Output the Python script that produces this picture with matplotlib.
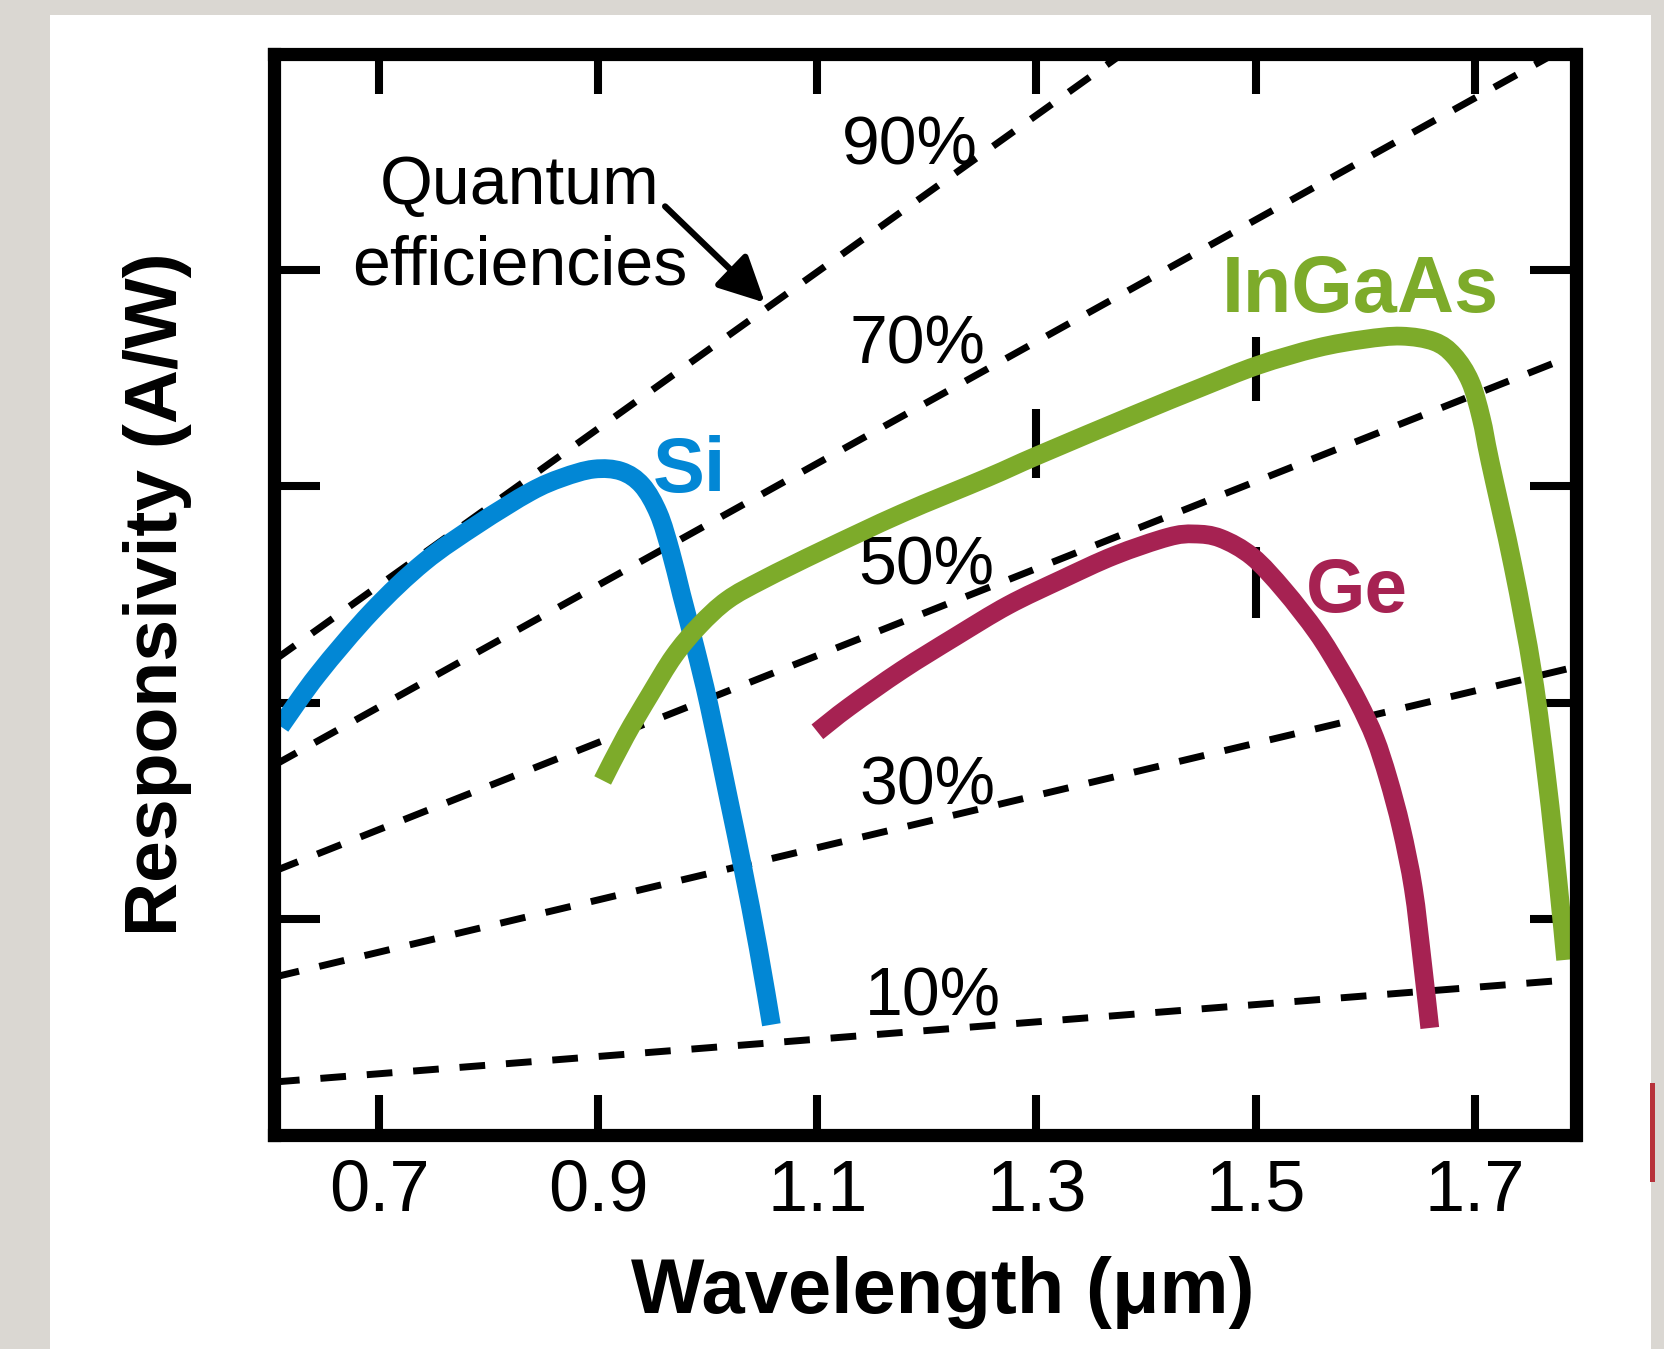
import matplotlib
matplotlib.use('Agg')
import matplotlib.pyplot as plt
from matplotlib.patches import Rectangle, PathPatch
from matplotlib.path import Path

# --- data (wavelength in um, responsivity in A/W) ---
si_wl = [0.610, 0.644, 0.693, 0.741, 0.790, 0.838, 0.867, 0.896, 0.921, 0.940,
         0.955, 0.966, 0.976, 0.989, 1.001, 1.019, 1.032, 1.046, 1.058]
si_resp = [0.378, 0.426, 0.484, 0.530, 0.565, 0.595, 0.608, 0.616, 0.614, 0.601,
           0.575, 0.540, 0.500, 0.449, 0.398, 0.311, 0.247, 0.173, 0.102]

ingaas_wl = [0.904, 0.925, 0.947, 0.969, 0.992, 1.018, 1.051, 1.105, 1.177, 1.255,
             1.302, 1.391, 1.449, 1.502, 1.556, 1.599, 1.633, 1.663, 1.681, 1.696,
             1.706, 1.714, 1.735, 1.753, 1.766, 1.776, 1.783]
ingaas_resp = [0.328, 0.369, 0.407, 0.443, 0.471, 0.495, 0.514, 0.541, 0.575, 0.608,
               0.629, 0.667, 0.691, 0.712, 0.728, 0.736, 0.739, 0.734, 0.721, 0.697,
               0.663, 0.623, 0.526, 0.427, 0.328, 0.235, 0.162]

ge_wl = [1.100, 1.129, 1.177, 1.226, 1.274, 1.323, 1.371, 1.420, 1.444, 1.468,
         1.497, 1.526, 1.556, 1.577, 1.594, 1.609, 1.621, 1.633, 1.644, 1.652, 1.659]
ge_resp = [0.373, 0.396, 0.430, 0.461, 0.490, 0.514, 0.536, 0.553, 0.556, 0.552,
           0.535, 0.504, 0.465, 0.431, 0.400, 0.367, 0.330, 0.284, 0.228, 0.162, 0.099]

# quantum efficiency guide lines: responsivity at the left and right frame edges
qe_names = ['10%', '30%', '50%', '70%', '90%']
qe_wl_ends = [0.604, 1.792]
qe_resp_left = [0.049, 0.146, 0.244, 0.342, 0.439]
qe_resp_right = [0.144, 0.433, 0.722, 1.011, 1.300]
qe_label_wl = [1.205, 1.200, 1.199, 1.191, 1.184]
qe_label_resp = [0.111, 0.306, 0.509, 0.714, 0.898]

x_ticks = [0.7, 0.9, 1.1, 1.3, 1.5, 1.7]
x_ticklabels = ['0.7', '0.9', '1.1', '1.3', '1.5', '1.7']
y_ticks = [0.2, 0.4, 0.6, 0.8]

# leftover tick marks inside the frame
stray_wl = [1.3, 1.5, 1.5]
stray_lo = [0.608, 0.679, 0.478]
stray_hi = [0.672, 0.738, 0.544]

SI_C = '#0287d5'
INGAAS_C = '#7dab2a'
GE_C = '#a62252'


def smooth_curve(ax, xs, ys, color, lw):
    # draw the read points as one smooth Catmull-Rom / Bezier path
    pts = list(zip(xs, ys))
    verts = [pts[0]]
    codes = [Path.MOVETO]
    n = len(pts)
    for i in range(n - 1):
        p0 = pts[i - 1] if i > 0 else pts[i]
        p1 = pts[i]
        p2 = pts[i + 1]
        p3 = pts[i + 2] if i + 2 < n else pts[i + 1]
        c1 = (p1[0] + (p2[0] - p0[0]) / 6, p1[1] + (p2[1] - p0[1]) / 6)
        c2 = (p2[0] - (p3[0] - p1[0]) / 6, p2[1] - (p3[1] - p1[1]) / 6)
        verts += [c1, c2, p2]
        codes += [Path.CURVE4] * 3
    patch = PathPatch(Path(verts, codes), fill=False, edgecolor=color, lw=lw,
                      capstyle='butt', joinstyle='round', zorder=4)
    ax.add_patch(patch)


W, H = 1665, 1349
plt.rcParams['font.family'] = ['Liberation Sans', 'DejaVu Sans']

fig = plt.figure(figsize=(W / 100, H / 100), dpi=100)
fig.patch.set_facecolor('#dad7d2')
fig.add_artist(Rectangle((50 / W, 0), (1651 - 50) / W, (H - 15) / H,
                         transform=fig.transFigure, facecolor='white',
                         edgecolor='none', zorder=-5))
fig.add_artist(Rectangle((1650.5 / W, (H - 1182) / H), 5 / W, 99 / H,
                         transform=fig.transFigure, facecolor='#b7323b',
                         edgecolor='none', zorder=-4))

ax = fig.add_axes([274 / W, (H - 1135) / H, (1575.5 - 274) / W, (1135 - 54) / H])
ax.set_xlim(0.604, 1.792)
ax.set_ylim(0, 1.0)

# dashed quantum-efficiency lines
for rl, rr in zip(qe_resp_left, qe_resp_right):
    ax.plot(qe_wl_ends, [rl, rr], color='black', lw=5, dashes=(3.7, 3.0),
            dash_capstyle='butt', zorder=2)
for name, lx, ly in zip(qe_names, qe_label_wl, qe_label_resp):
    ax.text(lx, ly, name, fontsize=49, ha='center', va='baseline', zorder=3)

# stray ticks
ax.vlines(stray_wl, stray_lo, stray_hi, color='black', lw=5.8, zorder=2)

# detector curves
smooth_curve(ax, si_wl, si_resp, SI_C, 13.5)
smooth_curve(ax, ingaas_wl, ingaas_resp, INGAAS_C, 13.5)
smooth_curve(ax, ge_wl, ge_resp, GE_C, 13.5)

ax.text(0.983, 0.595, 'Si', color=SI_C, fontsize=56, fontweight='bold',
        ha='center', va='baseline')
ax.text(1.596, 0.761, 'InGaAs', color=INGAAS_C, fontsize=57, fontweight='bold',
        ha='center', va='baseline')
ax.text(1.592, 0.484, 'Ge', color=GE_C, fontsize=55, fontweight='bold',
        ha='center', va='baseline')

ax.text(0.828, 0.787, 'Quantum\nefficiencies', fontsize=49, ha='center',
        va='baseline', linespacing=1.33, multialignment='center')
ax.annotate('', xy=(1.052, 0.770), xytext=(0.961, 0.859),
            arrowprops=dict(arrowstyle='-|>', color='black', lw=4.5,
                            mutation_scale=70, shrinkA=0, shrinkB=0))

# frame and ticks
for sp in ax.spines.values():
    sp.set_linewidth(9.5)
    sp.set_zorder(6)
ax.set_xticks(x_ticks)
ax.set_xticklabels(x_ticklabels)
ax.set_yticks(y_ticks)
ax.tick_params(axis='both', direction='in', width=5.8, top=True, right=True,
               labelleft=False, color='black')
ax.tick_params(axis='x', length=29, pad=17, labelsize=52)
ax.tick_params(axis='y', length=33)

ax.set_xlabel('Wavelength (\u03bcm)', fontsize=56, fontweight='bold')
ax.set_ylabel('Responsivity (A/W)', fontsize=54, fontweight='bold')
ax.xaxis.set_label_coords(0.514, -0.112)
ax.yaxis.set_label_coords(-0.063, 0.5)

fig.savefig('out.png', dpi=100)
